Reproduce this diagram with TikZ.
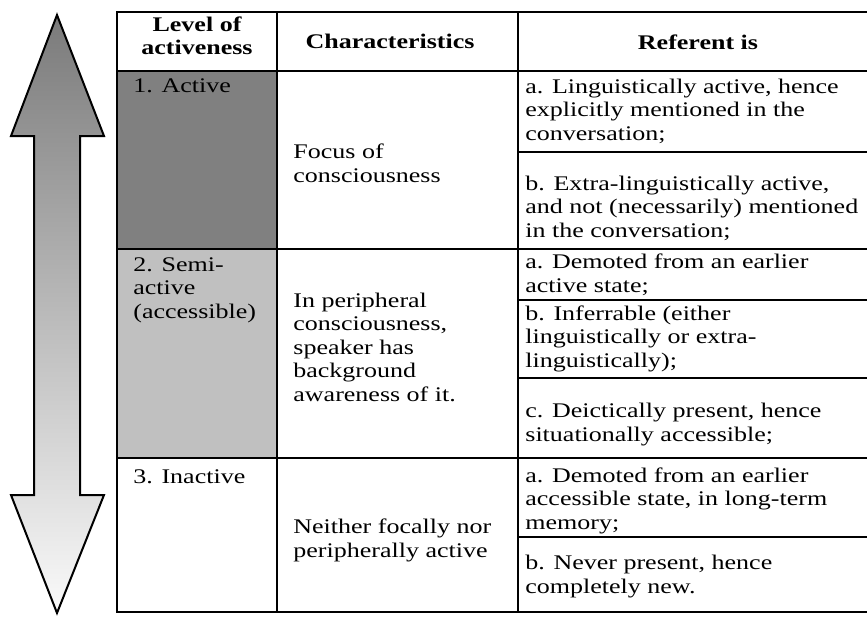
\documentclass[tikz,border=0pt]{standalone}
\usepackage{fontspec}
\setmainfont{Liberation Serif}[FakeStretch=1.25]
\definecolor{darkcell}{HTML}{808080}
\definecolor{lightcell}{HTML}{C0C0C0}
\tikzset{
  grid/.style={line width=0.55pt, draw=black},
  cell/.style={inner sep=0pt, align=left, anchor=base west, font=\fontsize{10.4pt}{11.75pt}\selectfont},
  hdr/.style={inner sep=0pt, align=center, anchor=base, font=\fontsize{10.4pt}{11.75pt}\selectfont\bfseries},
  bigarrow/.style={draw=black, line width=1pt, line join=miter, top color=black!52, bottom color=black!2}
}
\begin{document}
\begin{tikzpicture}[x=0.5pt,y=-0.5pt]
\useasboundingbox (0,0) rectangle (867,616);
% double arrow
\draw[bigarrow] (57,15) -- (104,136) -- (80,136) -- (80,495) -- (104,495) -- (57,613)
  -- (11,495) -- (34,495) -- (34,136) -- (11,136) -- cycle;
% cell fills
\fill[darkcell] (117,71) rectangle (277,249);
\fill[lightcell] (117,249) rectangle (277,458);
% grid
\draw[grid] (867,12) -- (117,12) -- (117,612) -- (867,612);
\draw[grid] (277,12) -- (277,612);
\draw[grid] (518,12) -- (518,612);
\draw[grid] (117,71) -- (867,71);
\draw[grid] (117,249) -- (867,249);
\draw[grid] (117,458) -- (867,458);
\draw[grid] (518,152) -- (867,152);
\draw[grid] (518,300) -- (867,300);
\draw[grid] (518,378) -- (867,378);
\draw[grid] (518,537) -- (867,537);
% header (y = baseline of the last line)
\node[hdr] (h1) at (197,54.5) {Level of\\activeness};
\node[hdr] (h2) at (390,48) {Characteristics};
\node[hdr] (h3) at (698,49) {Referent is};
% column 1
\node[cell] (l1) at (133,92) {1. Active};
\node[cell] (l2) at (133,318) {2. Semi-\\active\\(accessible)};
\node[cell] (l3) at (133,483) {3. Inactive};
% column 2
\node[cell] (c1) at (293,182) {Focus of\\consciousness};
\node[cell] (c2) at (293,401) {In peripheral\\consciousness,\\speaker has\\background\\awareness of it.};
\node[cell] (c3) at (293,557) {Neither focally nor\\peripherally active};
% column 3
\node[cell] (r1a) at (525,140) {a. Linguistically active, hence\\explicitly mentioned in the\\conversation;};
\node[cell] (r1b) at (525,237) {b. Extra-linguistically active,\\and not (necessarily) mentioned\\in the conversation;};
\node[cell] (r2a) at (525,292) {a. Demoted from an earlier\\active state;};
\node[cell] (r2b) at (525,367) {b. Inferrable (either\\linguistically or extra-\\linguistically);};
\node[cell] (r2c) at (525,441) {c. Deictically present, hence\\situationally accessible;};
\node[cell] (r3a) at (525,529) {a. Demoted from an earlier\\accessible state, in long-term\\memory;};
\node[cell] (r3b) at (525,593) {b. Never present, hence\\completely new.};
\end{tikzpicture}
\end{document}
